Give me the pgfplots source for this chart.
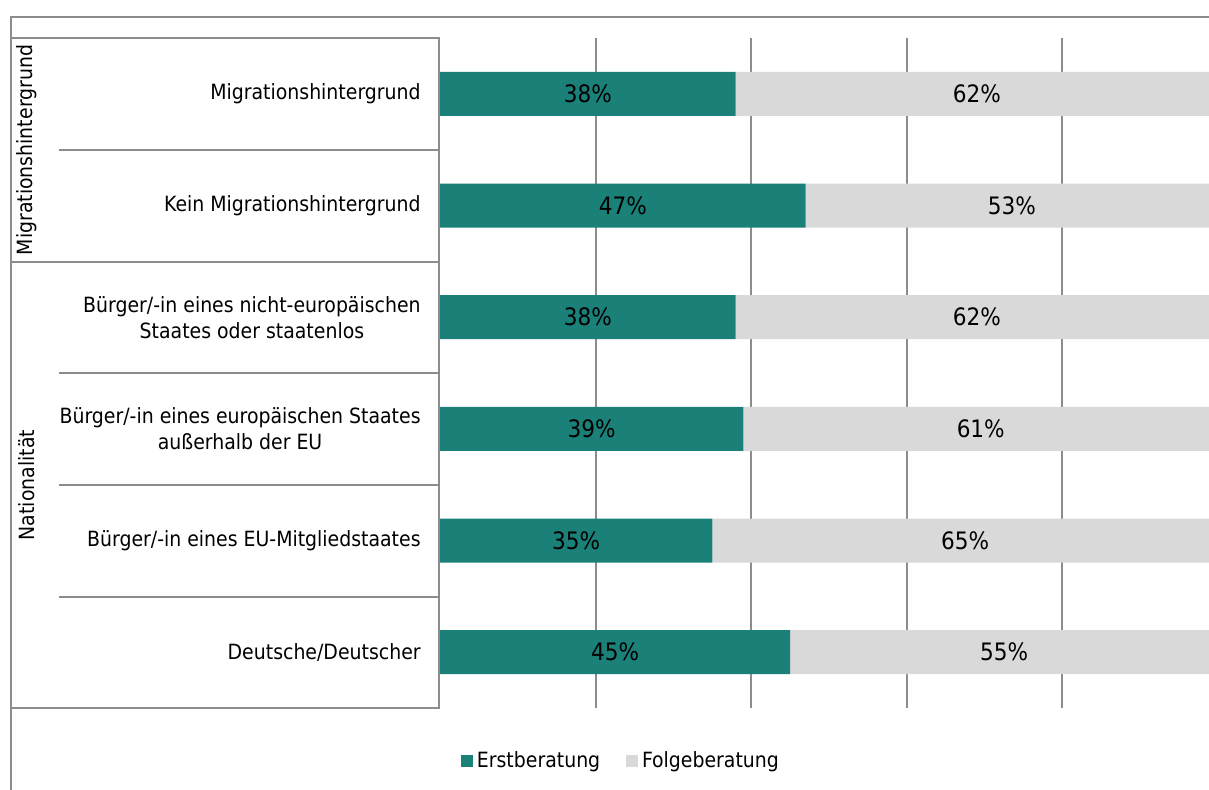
\documentclass[border=0pt]{standalone}
\usepackage{pgfplots}
\usepackage{pgfplotstable}
\pgfplotsset{compat=1.18}
\usepackage{fontspec}
\setmainfont{DejaVu Sans Condensed}
\definecolor{erst}{HTML}{1A8078}
\definecolor{folge}{HTML}{D9D9D9}
\definecolor{linie}{HTML}{8C8C8C}
\newcommand{\lab}{\fontsize{10.5bp}{13bp}\selectfont}
\newcommand{\val}{\fontsize{12bp}{13bp}\selectfont}

% row 6 = top bar
\pgfplotstableread{
row erst folge
6 38 62
5 47 53
4 38 62
3 39 61
2 35 65
1 45 55
}\daten

\pgfplotsset{frame/.style={
  at={(220bp,-354bp)}, anchor=south west,
  width=389bp, height=335bp, scale only axis,
  xmin=0, xmax=100, ymin=0.5, ymax=6.5}}

\begin{document}
\begin{tikzpicture}[x=0.5bp,y=-0.5bp]
\clip (0,0) rectangle (1209,789);
\draw[linie, line width=1bp] (11,820) -- (11,17) -- (1240,17);
\draw[linie, line width=1bp] (11,38) rectangle (439,708);
\draw[linie, line width=1bp] (11,262) -- (439,262);
\foreach \yy in {150,373,485,597} \draw[linie, line width=1bp] (59,\yy) -- (439,\yy);
\node[rotate=90, font=\lab] at (27,150) {Migrationshintergrund};
\node[rotate=90, font=\lab] at (27,485) {Nationalität};
\begin{axis}[
  frame,
  xbar stacked, bar width=22bp,
  axis line style={draw=none},
  tick style={draw=none}, major tick length=0pt,
  xtick={20,40,60,80}, xticklabels={},
  xmajorgrids, grid style={linie, line width=1bp},
  ytick={1,2,3,4,5,6},
  yticklabels={Deutsche/Deutscher, Bürger/-in eines EU-Mitgliedstaates,
    {Bürger/-in eines europäischen Staates\\außerhalb der EU},
    {Bürger/-in eines nicht-europäischen\\Staates oder staatenlos},
    Kein Migrationshintergrund, Migrationshintergrund},
  yticklabel style={font=\lab, align=center, inner sep=0pt, xshift=-9.5bp},
  legend columns=2,
  legend style={at={(0.2338,-0.0791)}, anchor=center, draw=none, fill=none,
    font=\lab, nodes={inner sep=2.2bp},
    /tikz/every even column/.append style={column sep=10.5bp}},
  legend image code/.code={\fill[#1] (0bp,-3bp) rectangle (6bp,3bp);},
]
\addplot[fill=erst, draw=none] table[x=erst, y=row] {\daten};
\addplot[fill=folge, draw=none] table[x=folge, y=row] {\daten};
\legend{Erstberatung, Folgeberatung}
\end{axis}
% value labels, centred in each bar segment
\begin{axis}[
  frame, hide axis,
  point meta=explicit symbolic,
  nodes near coords={\pgfplotspointmeta\%},
  every node near coord/.append style={font=\val, text=black, anchor=center},
]
\addplot[draw=none, mark=none] table[x expr=\thisrow{erst}/2, y=row, meta=erst] {\daten};
\addplot[draw=none, mark=none] table[x expr=\thisrow{erst}+\thisrow{folge}/2, y=row, meta=folge] {\daten};
\end{axis}
\end{tikzpicture}
\end{document}
